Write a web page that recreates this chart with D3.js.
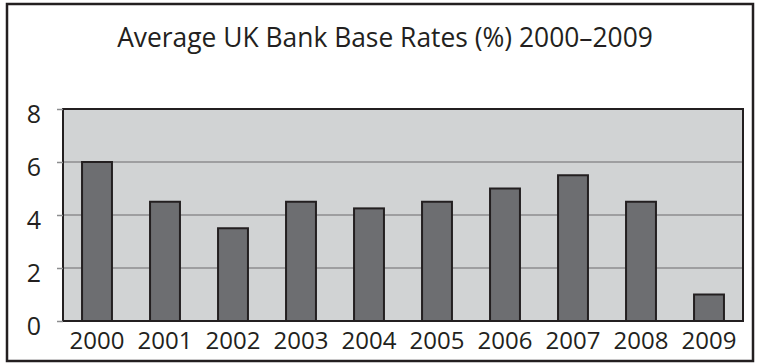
<!DOCTYPE html>
<html lang="en">
<head>
  <title>UK Bank Base Rates</title>
  <style>
    body { margin: 0; background: #fff; }
    text { font-family: "Open Sans", sans-serif; fill: #231f20; }
  </style>
</head>
<body>
  <script src="https://d3js.org/d3.v7.min.js"></script>
  <svg></svg>
  <script>

// Values
var years = ['2000','2001','2002','2003','2004','2005','2006','2007','2008','2009'];
var rates = [6.0, 4.5, 3.5, 4.5, 4.25, 4.5, 5.0, 5.5, 4.5, 1.0];
var yTicks = [0, 2, 4, 6, 8];
var title = 'Average UK Bank Base Rates (%) 2000\u20132009';

var width = 760, height = 364;
var plot = {left: 63, right: 743, top: 109, bottom: 321};

var svg = d3.select('svg')
            .attr('width', width)
            .attr('height', height);

// outer frame
svg.append('rect')
   .attr('x', 7).attr('y', 4)
   .attr('width', 746).attr('height', 357)
   .attr('fill', 'none')
   .attr('stroke', '#231f20')
   .attr('stroke-width', 2.5);

var xScale = d3.scaleBand()
               .domain(years)
               .range([plot.left, plot.right])
               .paddingInner(0.56)
               .paddingOuter(0.28);

var yScale = d3.scaleLinear()
               .domain([0, 8])
               .range([plot.bottom, plot.top]);

// plot background
svg.append('rect')
   .attr('x', plot.left).attr('y', plot.top)
   .attr('width', plot.right - plot.left)
   .attr('height', plot.bottom - plot.top)
   .attr('fill', '#d1d3d4');

// gridlines
svg.append('g')
   .selectAll('line')
   .data(yTicks.filter(function(d) { return d > 0 && d < 8; }))
   .enter()
   .append('line')
   .attr('x1', plot.left).attr('x2', plot.right)
   .attr('y1', function(d) { return yScale(d); })
   .attr('y2', function(d) { return yScale(d); })
   .attr('stroke', '#8c8d8f')
   .attr('stroke-width', 1.5);

// bars
svg.append('g')
   .selectAll('rect')
   .data(rates)
   .enter()
   .append('rect')
   .attr('x', function(d, i) { return xScale(years[i]); })
   .attr('y', function(d) { return yScale(d); })
   .attr('width', xScale.bandwidth())
   .attr('height', function(d) { return yScale(0) - yScale(d); })
   .attr('fill', '#6d6e71')
   .attr('stroke', '#231f20')
   .attr('stroke-width', 2);

// plot border
svg.append('rect')
   .attr('x', plot.left).attr('y', plot.top)
   .attr('width', plot.right - plot.left)
   .attr('height', plot.bottom - plot.top)
   .attr('fill', 'none')
   .attr('stroke', '#231f20')
   .attr('stroke-width', 2);

// Y axis
var yAxis = svg.append('g')
   .attr('transform', 'translate(' + plot.left + ',0)')
   .call(d3.axisLeft(yScale).tickValues(yTicks).tickSize(6).tickPadding(16));
yAxis.select('.domain').remove();
yAxis.selectAll('line').attr('stroke', '#8c8d8f').attr('stroke-width', 1.5);
yAxis.selectAll('text')
     .attr('font-size', '25px')
     .attr('dy', '0.55em')
     .attr('fill', '#231f20')
     .attr('font-family', '"Open Sans", sans-serif');

// X axis
var xAxis = svg.append('g')
   .attr('transform', 'translate(0,' + plot.bottom + ')')
   .call(d3.axisBottom(xScale).tickSize(0).tickPadding(11));
xAxis.select('.domain').remove();
xAxis.selectAll('text')
     .attr('font-size', '24px')
     .attr('fill', '#231f20')
     .attr('font-family', '"Open Sans", sans-serif');

// title
svg.append('text')
   .attr('x', 385)
   .attr('y', 47)
   .attr('text-anchor', 'middle')
   .attr('font-size', '26.4px')
   .text(title);

  </script>
</body>
</html>
